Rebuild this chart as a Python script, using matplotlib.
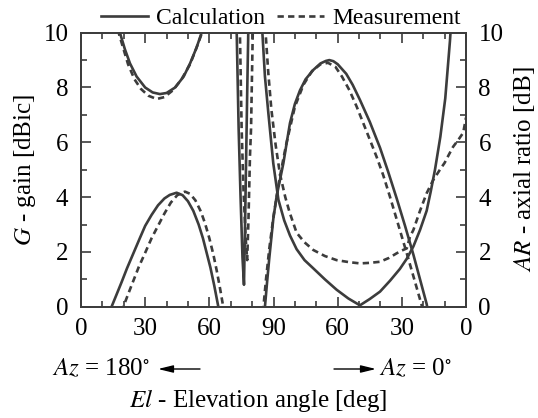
import numpy as np
import matplotlib
matplotlib.use("Agg")
import matplotlib.pyplot as plt

nan = np.nan

# x axis runs 0..180: left half is Az = 180 (El 0->90), right half Az = 0 (El 90->0)
tick_pos = [0, 30, 60, 90, 120, 150, 180]
tick_labels = ["0", "30", "60", "90", "60", "30", "0"]

# G - gain, calculation (solid)
gain_calc_x = [13.8, 14.3, 16.5, 19, 21.5, 24.5, 27.5, 30, 33, 36, 39, 41.5, 44.7, 47.5, 50, 52.5,
               55, 57, 58.8, 60.5, 62.3, 64.2, 64.5, nan,
               85.8, 86.0, 87.0, 88.0, 89.9, 91.5, 93.0, 94.6, 96.0, 97.7, 100.0, 102.4, 105.0, 108.6,
               112.0, 114.5, 116.1, 118.0, 120.0, 124.0, 127.0, 130.4, 135.0, 139.8, 143.5, 147.6,
               151.5, 155.4, 158.5, 161.6, 162.3]
gain_calc_y = [-0.3, 0.0, 0.42, 0.9, 1.4, 1.95, 2.5, 2.95, 3.35, 3.7, 3.95, 4.08, 4.16, 4.07, 3.85, 3.5,
               3.0, 2.5, 1.95, 1.43, 0.77, 0.0, -0.2, nan,
               -0.2, 0.0, 0.9, 1.75, 3.2, 4.05, 4.62, 5.23, 5.9, 6.7, 7.4, 7.9, 8.3, 8.64,
               8.88, 8.97, 9.0, 8.96, 8.85, 8.5, 8.1, 7.55, 6.75, 5.8, 4.95, 3.95,
               2.95, 1.9, 1.0, 0.1, -0.2]

# G - gain, measurement (dashed)
gain_meas_x = [19.4, 19.8, 22, 24.5, 27, 29.9, 33, 36, 39, 42, 45, 48.6, 51, 53.5, 56, 58, 60, 61.9,
               63.5, 65, 66.5, 66.8, nan,
               85.1, 85.3, 86.5, 88.0, 90.0, 93.0, 96.0, 100.0, 104.0, 108.0, 112.0, 115.5, 119.0,
               122.0, 125.5, 128.9, 133.5, 138.2, 141.3, 144.5, 148.5, 152.3, 156.0, 159.3, 159.8]
gain_meas_y = [-0.2, 0.0, 0.45, 0.95, 1.45, 1.95, 2.5, 2.95, 3.4, 3.8, 4.07, 4.2, 4.12, 3.88, 3.48, 3.04,
               2.5, 1.9, 1.3, 0.67, 0.0, -0.2, nan,
               -0.2, 0.0, 1.0, 2.1, 3.3, 4.75, 5.95, 7.3, 8.1, 8.6, 8.85, 8.9, 8.75,
               8.4, 7.9, 7.3, 6.4, 5.47, 4.8, 4.0, 2.95, 1.95, 0.95, 0.05, -0.2]

# AR - axial ratio, calculation (solid)
ar_calc_x = [17.6, 18.2, 20.5, 22.9, 26, 30, 33.5, 36.9, 40, 44, 48, 51, 54, 56.4, 57.0, nan,
             72.6, 72.8, 73.7, 74.6, 75.5, 76.2, 76.7, 77.2, 77.7, 78.2, 78.4, nan,
             84.6, 84.8, 86.0, 87.6, 89.9, 92.3, 95.0, 97.7, 100.8, 104.5, 108.6, 114.0, 119.5, 125.0,
             130.4, 135.0, 139.8, 144.5, 149.1, 152.3, 155.4, 158.5, 161.6, 163.5, 165.5, 168.0, 170.3,
             172.5, 173.0]
ar_calc_y = [10.6, 10.0, 9.4, 8.88, 8.4, 8.0, 7.82, 7.76, 7.8, 8.0, 8.4, 8.88, 9.45, 10.0, 10.3, nan,
             10.6, 10.0, 6.5, 4.0, 1.8, 0.8, 3.0, 5.4, 7.8, 10.0, 10.6, nan,
             10.6, 10.0, 8.4, 7.06, 5.23, 3.9, 3.15, 2.6, 2.1, 1.7, 1.4, 1.0, 0.62, 0.3,
             0.05, 0.28, 0.55, 0.95, 1.38, 1.75, 2.2, 2.8, 3.5, 4.2, 5.0, 6.2, 7.6,
             9.7, 10.3]

# AR - axial ratio, measurement (dashed)
ar_meas_x = [17.2, 17.6, 19.5, 22, 25, 28, 31.5, 35.4, 39, 43, 47, 51, 54, 56.6, 57.0, nan,
             74.1, 74.3, 75.1, 76.0, 77.0, 77.7, 78.3, 79.0, 79.5, 80.3, 80.5, nan,
             86.1, 86.3, 87.5, 89.0, 91.0, 93.0, 95.5, 97.5, 100.8, 104.5, 108.6, 114.0, 119.5, 125.0,
             130.4, 135.0, 139.8, 144.0, 147.6, 150.0, 152.3, 153.8, 155.4, 158.5, 161.6, 164.5, 167.8,
             170.0, 172.0, 174.0, 176.5, 178.7, 180.0]
ar_meas_y = [10.5, 10.0, 9.5, 8.85, 8.3, 7.95, 7.7, 7.58, 7.65, 7.9, 8.3, 8.85, 9.45, 10.0, 10.3, nan,
             10.6, 10.0, 6.5, 4.2, 2.5, 1.7, 3.2, 5.5, 6.5, 10.0, 10.6, nan,
             10.6, 10.0, 8.6, 7.2, 5.9, 4.85, 4.0, 3.45, 2.7, 2.35, 2.07, 1.85, 1.70, 1.63,
             1.58, 1.6, 1.64, 1.78, 1.95, 2.05, 2.13, 2.55, 2.8, 3.5, 4.14, 4.6, 5.0,
             5.25, 5.55, 5.84, 6.1, 6.35, 6.9]

plt.rcParams['font.family'] = ['Liberation Serif', 'DejaVu Serif']
plt.rcParams['mathtext.fontset'] = 'stix'

line_color = '#3c3c3c'
lw = 1.9
dash = (2.4, 1.6)
fs = 18

fig = plt.figure(figsize=(5.38, 4.18), dpi=100)
ax = fig.add_axes([81 / 538, 1 - 306.7 / 418, (466 - 81) / 538, (306.7 - 32.7) / 418])
ax2 = ax.twinx()

ax.plot(gain_calc_x, gain_calc_y, '-', color=line_color, lw=lw)
ax.plot(gain_meas_x, gain_meas_y, '--', color=line_color, lw=lw, dashes=dash)
ax2.plot(ar_calc_x, ar_calc_y, '-', color=line_color, lw=lw, label='Calculation')
ax2.plot(ar_meas_x, ar_meas_y, '--', color=line_color, lw=lw, dashes=dash, label='Measurement')

for a in (ax, ax2):
    a.set_xlim(0, 180)
    a.set_ylim(0, 10)
    for s in a.spines.values():
        s.set_color(line_color)
        s.set_linewidth(1.3)

ax.set_xticks(tick_pos)
ax.set_xticklabels(tick_labels, fontsize=fs)
ax.set_xticks(np.arange(0, 181, 10), minor=True)
ax.set_yticks(np.arange(0, 11, 2))
ax.set_yticks(np.arange(1, 10, 2), minor=True)
ax.tick_params(axis='both', which='both', direction='in', top=True, color=line_color, width=1.2)
ax.tick_params(axis='both', which='major', length=7, labelsize=fs)
ax.tick_params(axis='both', which='minor', length=4)
ax.tick_params(axis='x', pad=8)
ax.tick_params(axis='y', pad=9)

ax2.set_yticks(np.arange(0, 11, 2))
ax2.set_yticks(np.arange(1, 10, 2), minor=True)
ax2.tick_params(axis='y', which='both', direction='in', color=line_color, width=1.2)
ax2.tick_params(axis='y', which='major', length=7, labelsize=fs, pad=9)
ax2.tick_params(axis='y', which='minor', length=4)

ax.set_ylabel(r'$G$ - gain [dBic]', fontsize=fs, labelpad=4)
ax2.set_ylabel(r'$AR$ - axial ratio [dB]', fontsize=fs, labelpad=6)

fig.text(258 / 538, 1 - 400 / 418, r'$El$ - Elevation angle [deg]', fontsize=fs,
         ha='center', va='center')

y_az = 1 - 369 / 418
fig.text(52 / 538, y_az, r'$Az$ = 180$^{\circ}$', fontsize=fs, ha='left', va='center')
fig.text(452 / 538, y_az, r'$Az$ = 0$^{\circ}$', fontsize=fs, ha='right', va='center')
arrow = dict(arrowstyle='-|>,head_length=0.9,head_width=0.22', color='black', lw=1.0,
             shrinkA=0, shrinkB=0)
ax.annotate('', xy=(158 / 538, y_az), xytext=(200 / 538, y_az),
            xycoords='figure fraction', textcoords='figure fraction', arrowprops=arrow)
ax.annotate('', xy=(376 / 538, y_az), xytext=(334 / 538, y_az),
            xycoords='figure fraction', textcoords='figure fraction', arrowprops=arrow)

fig.legend(loc='center', bbox_to_anchor=(281 / 538, 1 - 18 / 418), ncol=2, frameon=False,
           fontsize=17, handlelength=2.0, handletextpad=0.35, columnspacing=0.5,
           borderpad=0, borderaxespad=0)

fig.savefig('out.png', dpi=100)
